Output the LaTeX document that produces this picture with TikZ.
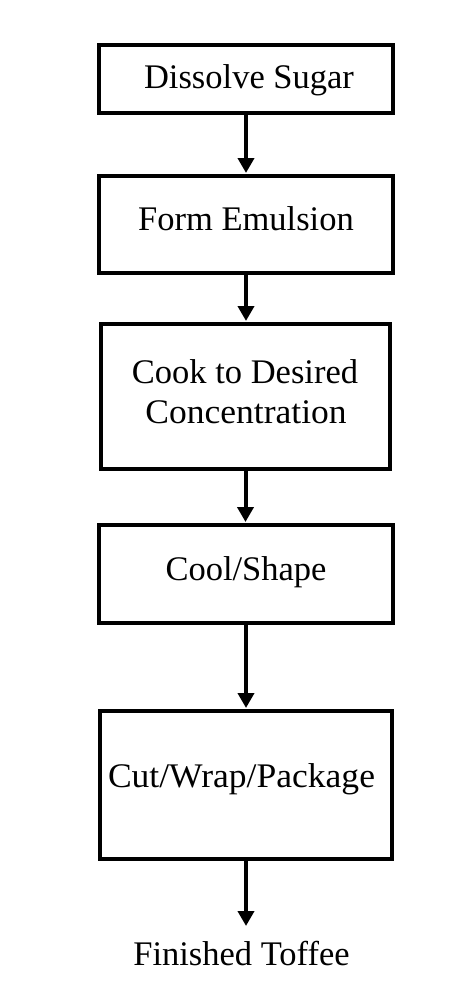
\documentclass[tikz,border=0pt]{standalone}
\usepackage{fontspec}
\setmainfont{Liberation Serif}
\usetikzlibrary{arrows.meta}
\begin{document}
\begin{tikzpicture}[x=1pt,y=-1pt,
  stepbox/.style={draw=black,line width=4pt,inner sep=0pt,fill=white},
  lbl/.style={anchor=base,inner sep=0pt,font=\fontsize{34.5}{40}\selectfont},
  flow/.style={line width=4pt,-{Triangle[length=15pt,width=16pt]},shorten >=1pt}]
\fill[white] (0,0) rectangle (464,1004);
\useasboundingbox (0,0) rectangle (464,1004);
\node[stepbox,minimum width=294pt,minimum height=68pt] (b1) at (246,79) {};
\node[stepbox,minimum width=294pt,minimum height=97pt] (b2) at (246,224.5) {};
\node[stepbox,minimum width=289pt,minimum height=145pt] (b3) at (245.5,396.5) {};
\node[stepbox,minimum width=294pt,minimum height=98pt] (b4) at (246,574) {};
\node[stepbox,minimum width=292pt,minimum height=148pt] (b5) at (246,785) {};
\node[lbl] (t1) at (249,88) {Dissolve Sugar};
\node[lbl] (t2) at (246,230) {Form Emulsion};
\node[lbl] (t3a) at (245,383) {Cook to Desired};
\node[lbl] (t3b) at (246,423) {\scalebox{1.03}[1]{Concentration}};
\node[lbl] (t4) at (246,580) {Cool/Shape};
\node[lbl] (t5) at (241.5,787) {\scalebox{1.03}[1]{Cut/Wrap/Package}};
\node[lbl] (t6) at (241.5,965) {Finished Toffee};
\coordinate (end) at (246,927);
\draw[flow] (b1.south) -- (b1.south |- b2.north);
\draw[flow] (b2.south) -- (b2.south |- b3.north);
\draw[flow] (b3.south) -- (b3.south |- b4.north);
\draw[flow] (b4.south) -- (b4.south |- b5.north);
\draw[flow] (b5.south) -- (end);
\end{tikzpicture}
\end{document}
